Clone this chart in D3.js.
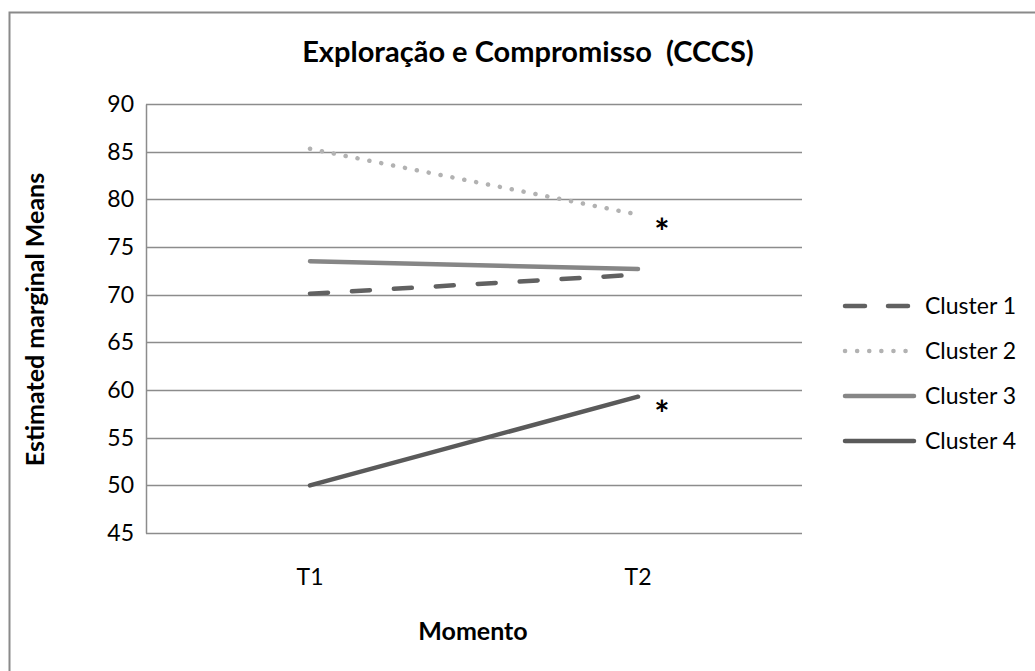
<!DOCTYPE html>
<html>
<head>
<meta charset="utf-8">
<script src="https://cdn.jsdelivr.net/npm/d3@7/dist/d3.min.js"></script>
<style>
  html, body { margin: 0; padding: 0; background: #fff; }
  svg { display: block; }
  text { font-family: Lato, "Open Sans", "Liberation Sans", sans-serif; fill: #000; white-space: pre; }
</style>
</head>
<body>
<svg id="chart" width="1035" height="671"></svg>
<script>
// Estimated marginal means per cluster at the two moments
const moments = ["T1", "T2"];
const yTicks = [45, 50, 55, 60, 65, 70, 75, 80, 85, 90];
const clusterNames = ["Cluster 1", "Cluster 2", "Cluster 3", "Cluster 4"];
const cluster1 = [70.1, 72.1];
const cluster2 = [85.3, 78.4];
const cluster3 = [73.5, 72.7];
const cluster4 = [50.0, 59.3];
// Significant change markers (placed beside the T2 point)
const significant = [false, true, false, true];

const series = [cluster1, cluster2, cluster3, cluster4];
const styles = [
  { color: "#616161", dash: "18,24", width: 4.5 },
  { color: "#b2b2b2", dash: "0.1,12", width: 4.5 },
  { color: "#868686", dash: null, width: 4.5 },
  { color: "#5a5a5a", dash: null, width: 4.5 }
];

const svg = d3.select("#chart");
const font = "Lato, 'Open Sans', sans-serif";

// outer chart frame
svg.append("rect")
  .attr("x", 9.5).attr("y", 12.5)
  .attr("width", 1040).attr("height", 670)
  .attr("fill", "none").attr("stroke", "#8a8a8a").attr("stroke-width", 2);

const plot = { left: 146, right: 802, top: 104, bottom: 533 };

const x = d3.scaleBand().domain(moments).range([plot.left, plot.right]);
const y = d3.scaleLinear().domain([45, 90]).range([plot.bottom, plot.top]);

// horizontal gridlines
svg.append("g")
  .selectAll("line")
  .data(yTicks)
  .join("line")
  .attr("x1", plot.left).attr("x2", plot.right)
  .attr("y1", d => Math.round(y(d)) + 0.5).attr("y2", d => Math.round(y(d)) + 0.5)
  .attr("stroke", "#8c8c8c").attr("stroke-width", 1.5);

// y axis line and labels
const yAxis = svg.append("g")
  .attr("transform", `translate(${plot.left},0)`)
  .call(d3.axisLeft(y).tickValues(yTicks).tickSize(0).tickPadding(12));
yAxis.select(".domain").attr("stroke", "#8c8c8c").attr("stroke-width", 1.5);
yAxis.selectAll("text")
  .attr("font-size", 23)
  .style("font-family", font)
  .attr("fill", "#000");

// x axis labels
const xAxis = svg.append("g")
  .attr("transform", `translate(0,${plot.bottom})`)
  .call(d3.axisBottom(x).tickSize(0).tickPadding(36));
xAxis.select(".domain").remove();
xAxis.selectAll("text")
  .attr("font-size", 23)
  .style("font-family", font)
  .attr("fill", "#000");

// lines
const line = d3.line()
  .x((d, i) => x(moments[i]) + x.bandwidth() / 2)
  .y(d => y(d));

series.forEach((vals, i) => {
  const s = styles[i];
  svg.append("path")
    .datum(vals)
    .attr("d", line)
    .attr("fill", "none")
    .attr("stroke", s.color)
    .attr("stroke-width", s.width)
    .attr("stroke-linecap", "round")
    .attr("stroke-dasharray", s.dash);
});

// significance asterisks
series.forEach((vals, i) => {
  if (!significant[i]) return;
  svg.append("text")
    .attr("x", x("T2") + x.bandwidth() / 2 + 24)
    .attr("y", y(vals[1]) + 30)
    .attr("text-anchor", "middle")
    .attr("font-size", 36).attr("font-weight", "bold")
    .text("*");
});

// title
svg.append("text")
  .attr("x", 528).attr("y", 62)
  .attr("text-anchor", "middle")
  .attr("font-size", 29).attr("font-weight", "bold")
  .text("Exploração e Compromisso  (CCCS)");

// axis titles
svg.append("text")
  .attr("transform", `translate(44,${(plot.top + plot.bottom) / 2 + 1}) rotate(-90)`)
  .attr("text-anchor", "middle")
  .attr("font-size", 25).attr("font-weight", "bold")
  .text("Estimated marginal Means");

svg.append("text")
  .attr("x", 473).attr("y", 640)
  .attr("text-anchor", "middle")
  .attr("font-size", 25).attr("font-weight", "bold")
  .text("Momento");

// legend
const legend = svg.append("g");
clusterNames.forEach((name, i) => {
  const s = styles[i];
  const ly = 306 + i * 45;
  legend.append("line")
    .attr("x1", 845).attr("x2", 914)
    .attr("y1", ly).attr("y2", ly)
    .attr("stroke", s.color)
    .attr("stroke-width", s.width)
    .attr("stroke-linecap", "round")
    .attr("stroke-dasharray", i === 0 ? "20,23" : s.dash);
  legend.append("text")
    .attr("x", 925).attr("y", ly + 8)
    .attr("font-size", 23)
    .text(name);
});
</script>
</body>
</html>
